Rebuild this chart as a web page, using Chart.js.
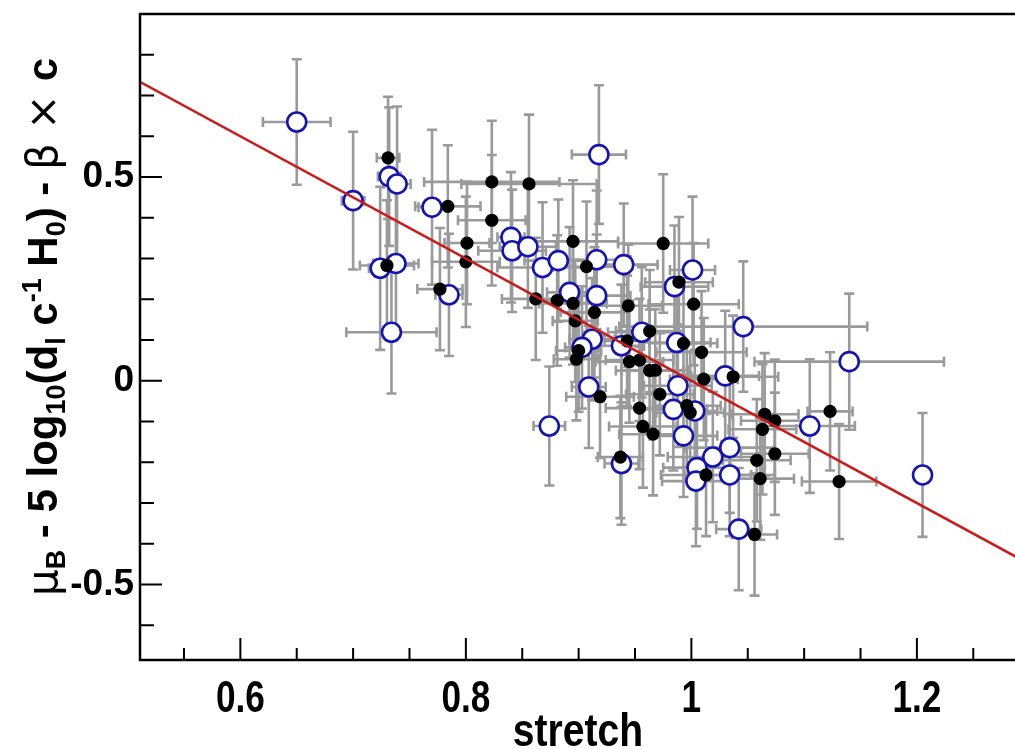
<!DOCTYPE html>
<html>
<head>
<meta charset="utf-8">
<script src="https://cdn.jsdelivr.net/npm/chart.js@4/dist/chart.umd.min.js"></script>
<style>
html,body{margin:0;padding:0;background:#fff;}
#c{display:block;}
</style>
</head>
<body>
<canvas id="c" width="1015" height="749"></canvas>
<script>
// ---- data ----
const blueX = [0.650,0.700,0.732,0.739,0.724,0.738,0.734,0.770,0.785,0.918,0.840,0.841,0.855,0.868,0.882,0.916,0.940,0.892,0.916,0.912,0.903,1.001,0.985,1.046,0.956,0.987,0.938,1.030,0.988,0.909,0.874,0.984,1.003,0.993,0.938,1.034,1.019,1.005,1.004,1.034,1.042,1.140,1.105,1.205];
const blueY = [0.635,0.442,0.501,0.483,0.276,0.288,0.119,0.426,0.211,0.555,0.352,0.319,0.329,0.278,0.295,0.297,0.285,0.217,0.209,0.102,0.082,0.272,0.231,0.133,0.119,0.094,0.086,0.012,-0.012,-0.015,-0.111,-0.070,-0.074,-0.135,-0.203,-0.164,-0.187,-0.213,-0.246,-0.231,-0.364,0.047,-0.111,-0.231];
const blueXErr = [0.030,0.010,0.010,0.012,0.010,0.020,0.040,0.012,0.012,0.024,0.012,0.030,0.025,0.040,0.030,0.030,0.030,0.020,0.030,0.020,0.015,0.020,0.030,0.110,0.030,0.030,0.020,0.030,0.030,0.015,0.014,0.030,0.020,0.030,0.015,0.040,0.040,0.030,0.030,0.040,0.020,0.084,0.040,0.000];
const blueYErr = [0.154,0.169,0.170,0.190,0.200,0.180,0.150,0.190,0.150,0.170,0.160,0.150,0.150,0.160,0.150,0.170,0.150,0.160,0.150,0.150,0.150,0.180,0.150,0.160,0.160,0.150,0.150,0.160,0.150,0.150,0.146,0.150,0.150,0.150,0.150,0.160,0.160,0.150,0.160,0.150,0.150,0.167,0.164,0.152];

const blackX = [0.731,0.730,0.784,0.777,0.801,0.800,0.823,0.823,0.856,0.895,0.907,0.862,0.881,0.895,0.914,0.897,0.944,0.975,0.989,1.002,0.963,0.993,1.009,1.037,1.011,0.972,0.996,0.999,0.954,0.943,0.945,0.954,0.963,0.968,0.919,0.900,0.898,0.957,0.966,0.937,1.013,1.065,1.074,1.063,1.074,1.058,1.061,1.056,1.123,1.131];
const blackY = [0.547,0.283,0.428,0.225,0.338,0.292,0.488,0.394,0.483,0.342,0.280,0.201,0.197,0.190,0.168,0.147,0.184,0.337,0.242,0.188,0.122,0.092,0.070,0.010,0.004,-0.033,-0.061,-0.078,-0.067,0.098,0.047,0.051,0.025,0.026,-0.039,0.074,0.053,-0.112,-0.131,-0.187,-0.231,-0.082,-0.098,-0.119,-0.179,-0.195,-0.240,-0.377,-0.075,-0.247];
const blackXErr = [0.010,0.024,0.029,0.020,0.020,0.030,0.060,0.030,0.060,0.040,0.030,0.030,0.020,0.030,0.030,0.020,0.030,0.040,0.030,0.040,0.030,0.030,0.040,0.040,0.030,0.030,0.030,0.030,0.030,0.020,0.030,0.030,0.030,0.030,0.030,0.020,0.020,0.030,0.030,0.020,0.040,0.030,0.030,0.030,0.030,0.030,0.030,0.020,0.020,0.033];
const blackYErr = [0.150,0.160,0.150,0.150,0.150,0.160,0.150,0.160,0.170,0.150,0.160,0.150,0.160,0.150,0.160,0.150,0.150,0.170,0.160,0.150,0.150,0.160,0.150,0.150,0.150,0.150,0.150,0.150,0.150,0.160,0.150,0.150,0.150,0.150,0.150,0.150,0.150,0.150,0.150,0.150,0.150,0.150,0.150,0.160,0.150,0.150,0.150,0.150,0.145,0.141];

const fitX = [0.5, 1.3];
const fitY = [0.75, -0.45];

const xTicks = [0.6, 0.8, 1.0, 1.2];
const xTickLabels = ['0.6', '0.8', '1', '1.2'];
const xMinor = [0.55,0.65,0.7,0.75,0.85,0.9,0.95,1.05,1.1,1.15,1.25];
const yTicks = [-0.5, 0, 0.5];
const yTickLabels = ['-0.5', '0', '0.5'];
const yMinor = [-0.6,-0.4,-0.3,-0.2,-0.1,0.1,0.2,0.3,0.4,0.6,0.7,0.8];

const xTitle = 'stretch';

// ---- helpers ----
function pts(xs, ys){ return xs.map((x,i)=>({x:x, y:ys[i]})); }

const errorBarPlugin = {
  id: 'errbars',
  beforeDatasetsDraw(chart){
    const ctx = chart.ctx, xs = chart.scales.x, ys = chart.scales.y, a = chart.chartArea;
    ctx.save();
    ctx.beginPath(); ctx.rect(a.left, a.top, a.right - a.left, a.bottom - a.top); ctx.clip();
    ctx.strokeStyle = '#9a9a9a'; ctx.lineWidth = 2.6; ctx.lineCap = 'butt';
    const cap = 5;
    chart.data.datasets.forEach(ds=>{
      if(!ds.errX) return;
      ds.data.forEach((p,i)=>{
        const px = xs.getPixelForValue(p.x), py = ys.getPixelForValue(p.y);
        const ex = ds.errX[i] || 0, ey = ds.errY[i] || 0;
        ctx.beginPath();
        if (ex > 0){
          const x1 = xs.getPixelForValue(p.x - ex), x2 = xs.getPixelForValue(p.x + ex);
          ctx.moveTo(x1, py); ctx.lineTo(x2, py);
          ctx.moveTo(x1, py - cap); ctx.lineTo(x1, py + cap);
          ctx.moveTo(x2, py - cap); ctx.lineTo(x2, py + cap);
        }
        if (ey > 0){
          const y1 = ys.getPixelForValue(p.y - ey), y2 = ys.getPixelForValue(p.y + ey);
          ctx.moveTo(px, y1); ctx.lineTo(px, y2);
          ctx.moveTo(px - cap, y1); ctx.lineTo(px + cap, y1);
          ctx.moveTo(px - cap, y2); ctx.lineTo(px + cap, y2);
        }
        ctx.stroke();
      });
    });
    ctx.restore();
  }
};

const framePlugin = {
  id: 'frame',
  afterDatasetsDraw(chart){
    const ctx = chart.ctx, xs = chart.scales.x, ys = chart.scales.y, a = chart.chartArea;
    ctx.save();
    ctx.strokeStyle = '#000'; ctx.lineWidth = 2.5; ctx.lineCap = 'square';
    ctx.beginPath();
    ctx.moveTo(a.right + 5, a.top); ctx.lineTo(a.left, a.top); ctx.lineTo(a.left, a.bottom); ctx.lineTo(a.right + 5, a.bottom);
    ctx.stroke();
    ctx.lineWidth = 2; ctx.lineCap = 'butt';
    ctx.beginPath();
    xTicks.forEach(v=>{ const p = xs.getPixelForValue(v); ctx.moveTo(p, a.bottom); ctx.lineTo(p, a.bottom - 22); });
    xMinor.forEach(v=>{ const p = xs.getPixelForValue(v); ctx.moveTo(p, a.bottom); ctx.lineTo(p, a.bottom - 12); });
    yTicks.forEach(v=>{ const p = ys.getPixelForValue(v); ctx.moveTo(a.left, p); ctx.lineTo(a.left + 22, p); });
    yMinor.forEach(v=>{ const p = ys.getPixelForValue(v); ctx.moveTo(a.left, p); ctx.lineTo(a.left + 14, p); });
    ctx.stroke();
    ctx.restore();
  }
};

const titlesPlugin = {
  id: 'titles',
  afterDraw(chart){
    const ctx = chart.ctx, a = chart.chartArea, xs = chart.scales.x;
    // x tick labels (condensed bold)
    ctx.save();
    ctx.fillStyle = '#000';
    ctx.font = 'bold 44px "Liberation Sans", Arial, sans-serif';
    ctx.textAlign = 'center'; ctx.textBaseline = 'alphabetic';
    xTicks.forEach((v,i)=>{
      const p = xs.getPixelForValue(v);
      ctx.save(); ctx.translate(p, 712); ctx.scale(0.8, 1);
      ctx.fillText(xTickLabels[i], 0, 0);
      ctx.restore();
    });
    // x title
    ctx.font = 'bold 46px "Liberation Sans", Arial, sans-serif';
    ctx.translate(578, 746); ctx.scale(0.85, 1);
    ctx.fillText(xTitle, 0, 0);
    ctx.restore();

    // y title with sub/superscripts
    const B = 'bold 42px "Liberation Sans", Arial, sans-serif';
    const N = '42px "DejaVu Sans", "Liberation Sans", sans-serif';
    const S = 'bold 27px "Liberation Sans", Arial, sans-serif';
    const segs = [
      {t:'\u03BC', f:N, dy:0},
      {t:'B', f:S, dy:8},
      {t:' - 5 log', f:B, dy:0},
      {t:'10', f:S, dy:8},
      {t:'(d', f:B, dy:0},
      {t:'l', f:S, dy:8},
      {t:' c', f:B, dy:0},
      {t:'-1', f:S, dy:-16},
      {t:' H', f:B, dy:0},
      {t:'0', f:S, dy:8},
      {t:') - ', f:B, dy:0},
      {t:'\u03B2', f:N, dy:0},
      {t:' \u00D7 ', f:N, dy:0},
      {t:'c', f:B, dy:0}
    ];
    ctx.save();
    let total = 0;
    segs.forEach(s=>{ ctx.font = s.f; s.w = ctx.measureText(s.t).width; total += s.w; });
    const cy = 327;
    ctx.translate(57, cy + total / 2);
    ctx.rotate(-Math.PI / 2);
    ctx.fillStyle = '#000'; ctx.textAlign = 'left'; ctx.textBaseline = 'alphabetic';
    let x = 0;
    segs.forEach(s=>{ ctx.font = s.f; ctx.fillText(s.t, x, s.dy); x += s.w; });
    ctx.restore();
  }
};

new Chart(document.getElementById('c'), {
  type: 'scatter',
  data: {
    datasets: [
      {
        type: 'line', label: 'fit', data: pts(fitX, fitY),
        borderColor: '#cc1a1a', borderWidth: 2.6, pointRadius: 0, fill: false, order: 0
      },
      {
        label: 'open', data: pts(blueX, blueY), errX: blueXErr, errY: blueYErr,
        pointRadius: 9.5, pointBorderWidth: 2.6, borderColor: '#1414b4', backgroundColor: '#ffffff', order: 2
      },
      {
        label: 'filled', data: pts(blackX, blackY), errX: blackXErr, errY: blackYErr,
        pointRadius: 6.6, pointBorderWidth: 0, borderColor: '#000', backgroundColor: '#000', order: 1
      }
    ]
  },
  options: {
    responsive: false, animation: false, devicePixelRatio: 1,
    layout: { autoPadding: false, padding: { left: 0, right: 0, top: 14, bottom: 0 } },
    plugins: { legend: { display: false }, tooltip: { enabled: false } },
    scales: {
      x: {
        type: 'linear', min: 0.511, max: 1.287,
        grid: { display: false, drawTicks: false },
        border: { display: false },
        afterFit(s){ s.height = 89; s.paddingLeft = 0; s.paddingRight = 0; },
        afterBuildTicks(s){ s.ticks = xTicks.map(v=>({value:v})); },
        ticks: { display: false }
      },
      y: {
        type: 'linear', min: -0.685, max: 0.9,
        grid: { display: false, drawTicks: false },
        border: { display: false },
        afterFit(s){ s.width = 140; s.paddingTop = 0; s.paddingBottom = 0; },
        afterBuildTicks(s){ s.ticks = yTicks.map(v=>({value:v})); },
        ticks: {
          padding: 6, color: '#000', autoSkip: false,
          font: { family: '"Liberation Sans", Arial, sans-serif', weight: 'bold', size: 37 },
          callback: (v)=>{ const i = yTicks.findIndex(t=>Math.abs(t-v)<1e-9); return i>=0 ? yTickLabels[i] : ''; }
        }
      }
    }
  },
  plugins: [errorBarPlugin, framePlugin, titlesPlugin]
});
</script>
</body>
</html>
